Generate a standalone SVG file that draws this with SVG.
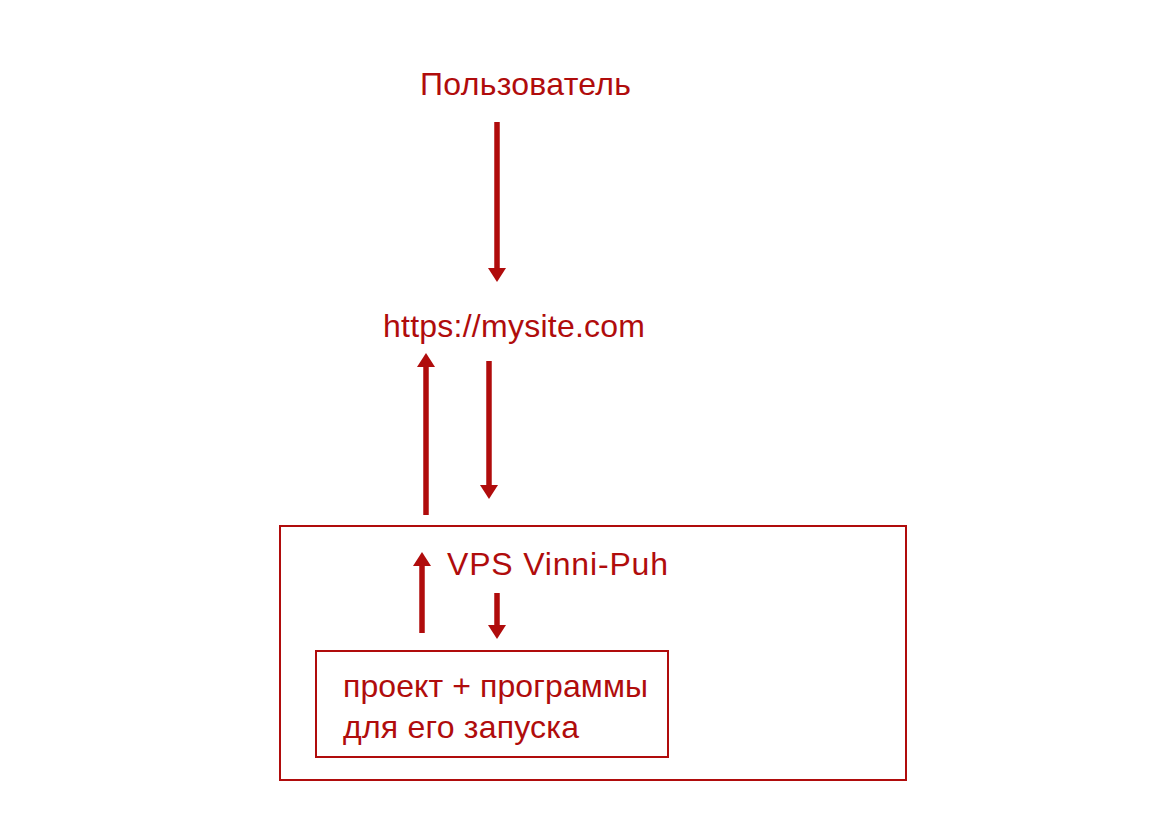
<svg xmlns="http://www.w3.org/2000/svg" width="1153" height="821" viewBox="0 0 1153 821">
<defs>
<style>
.t{font-family:"Liberation Sans",Arial,sans-serif;font-size:32px;fill:#b00c0c}
.box{fill:none;stroke:#b00c0c;stroke-width:2}
.arr{stroke:#b00c0c;stroke-width:5.5;fill:none;marker-end:url(#ah)}
</style>
<marker id="ah" markerUnits="userSpaceOnUse" markerWidth="15" markerHeight="18" refX="0" refY="9" orient="auto" viewBox="0 0 15 18">
<path d="M0,0 L14,9 L0,18 z" fill="#b00c0c"/>
</marker>
</defs>
<rect width="1153" height="821" fill="#ffffff"/>
<g id="user"><text class="t" x="420" y="95" textLength="211" lengthAdjust="spacing">Пользователь</text></g>
<g id="site"><text class="t" x="383" y="337" textLength="262" lengthAdjust="spacing">https://mysite.com</text></g>
<g id="vps"><rect class="box" x="280" y="526" width="626" height="254"/><text class="t" x="447" y="575" textLength="221" lengthAdjust="spacing">VPS Vinni-Puh</text></g>
<g id="project"><rect class="box" x="316" y="651" width="352" height="106"/><text class="t" x="343" y="697" textLength="305" lengthAdjust="spacing">проект + программы</text><text class="t" x="343" y="738" textLength="236" lengthAdjust="spacing">для его запуска</text></g>
<g id="connectors">
<line class="arr" x1="497" y1="122" x2="497" y2="268"/>
<line class="arr" x1="426" y1="515" x2="426" y2="367"/>
<line class="arr" x1="489" y1="361" x2="489" y2="485"/>
<line class="arr" x1="422" y1="633" x2="422" y2="566"/>
<line class="arr" x1="497" y1="593" x2="497" y2="625"/>
</g>
</svg>
